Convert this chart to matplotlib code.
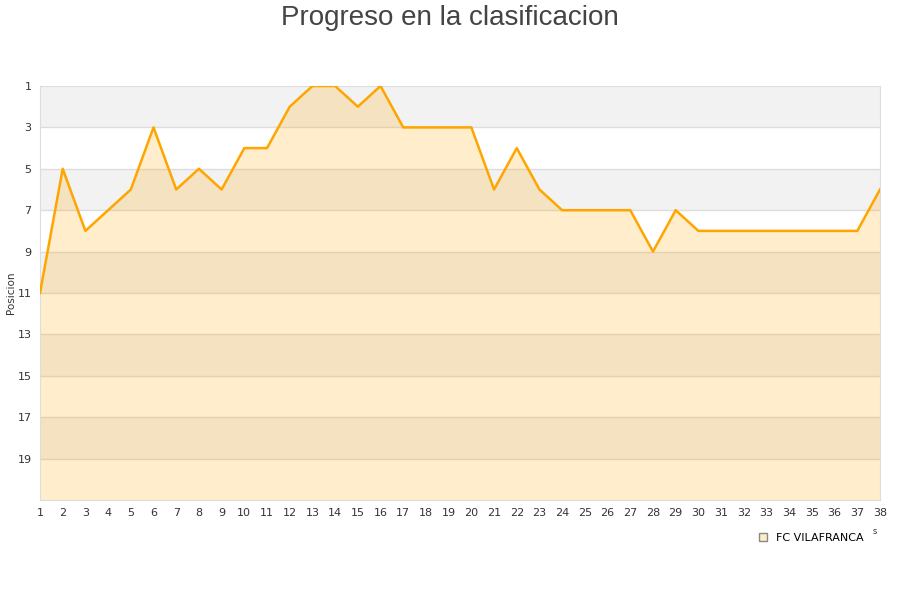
import matplotlib.pyplot as plt
from matplotlib.patches import Patch

jornadas = list(range(1, 39))
posiciones = [11, 5, 8, 7, 6, 3, 6, 5, 6, 4,
              4, 2, 1, 1, 2, 1, 3, 3, 3, 3,
              6, 4, 6, 7, 7, 7, 7, 9, 7, 8,
              8, 8, 8, 8, 8, 8, 8, 6]
equipo = "FC VILAFRANCA"
y_ticks = list(range(1, 21, 2))

fig = plt.figure(figsize=(9, 6), dpi=100)
ax = fig.add_axes([40 / 900, 100 / 600, 840 / 900, 414 / 600])

# bandas alternas del fondo
for i, y0 in enumerate(range(1, 21, 2)):
    color = "#f2f2f2" if i % 2 == 0 else "white"
    ax.axhspan(y0, y0 + 2, color=color, zorder=0, lw=0)
for y in y_ticks[1:]:
    ax.axhline(y, color="#dddddd", lw=1, zorder=1)

ax.fill_between(jornadas, posiciones, 21, color="orange", alpha=0.2, lw=0, zorder=2)
ax.plot(jornadas, posiciones, color="#ffa500", lw=1.8, zorder=3)

ax.set_xlim(1, 38)
ax.set_ylim(21, 1)
ax.set_xticks(jornadas)
ax.set_yticks(y_ticks)
ax.tick_params(length=0, labelsize=8, colors="#333333", pad=6)
for s in ax.spines.values():
    s.set_color("#dddddd")
fig.text(11 / 900, 1 - 293 / 600, "Posicion", rotation=90, ha="center", va="center",
         fontsize=7.5, color="#333333")

fig.text(0.5, 1 - 18 / 600, "Progreso en la clasificacion", ha="center", va="center",
         fontsize=20, color="#444444", family="Liberation Sans")

ax.legend(handles=[Patch(facecolor="#fdecc8", edgecolor="#888888", label=equipo)],
          loc="upper right", bbox_to_anchor=(0.992, -0.055), frameon=False,
          fontsize=8, handlelength=0.7, handleheight=0.7, handletextpad=0.8)
# resto de una etiqueta recortada junto a la leyenda
fig.text(875 / 900, 1 - 531 / 600, "s", ha="center", va="center",
         fontsize=6, color="#333333")

fig.savefig("out.png", dpi=100)
